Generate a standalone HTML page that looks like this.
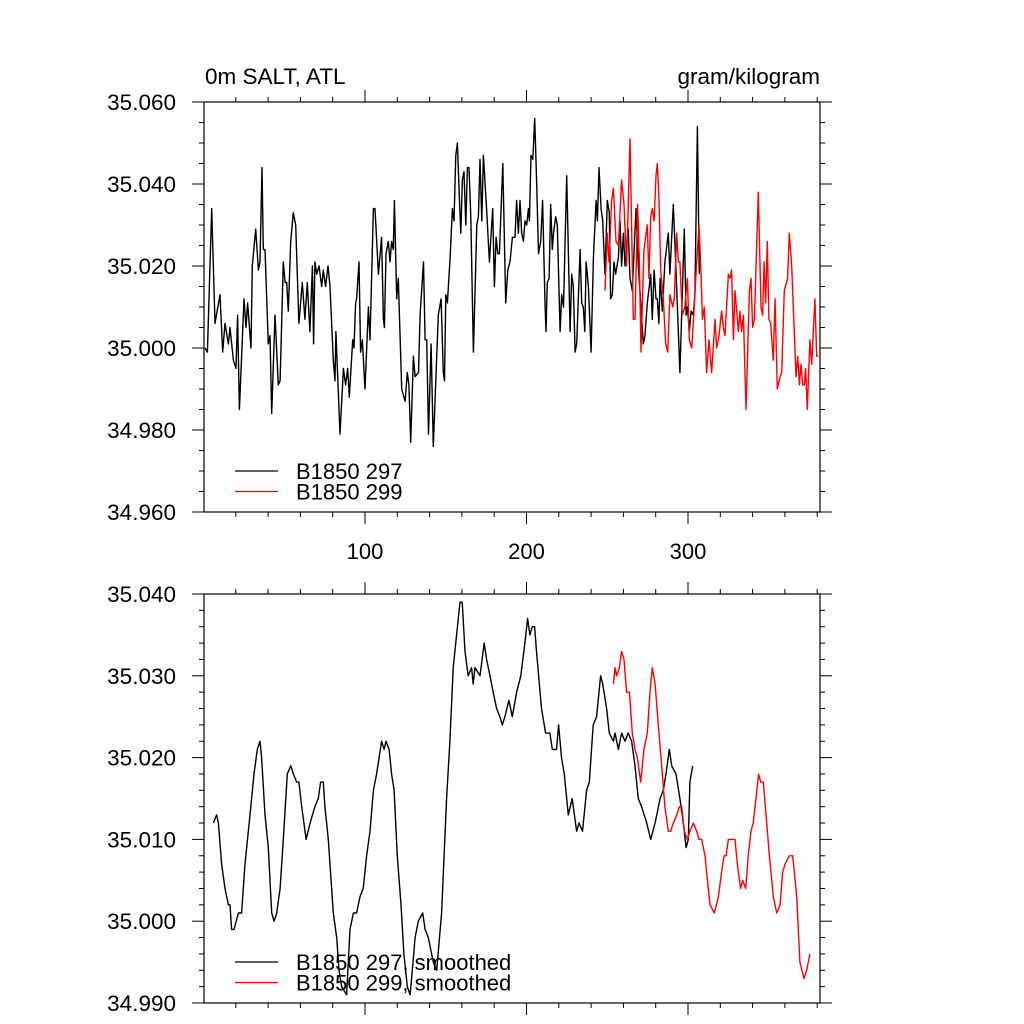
<!DOCTYPE html>
<html><head><meta charset="utf-8"><style>
html,body{margin:0;padding:0;background:#fff;}
svg{display:block;font-family:"Liberation Sans",sans-serif;}
</style></head><body>
<svg id="chart" width="1024" height="1024" viewBox="0 0 1024 1024" xmlns="http://www.w3.org/2000/svg">
<rect x="0" y="0" width="1024" height="1024" fill="#fff"/>
<text x="205" y="84" font-size="22.5">0m SALT, ATL</text>
<text x="820" y="84" font-size="22.5" text-anchor="end">gram/kilogram</text>
<g id="top"></g>
<g id="bot"></g>
</svg>
<script>
// ---- Top panel data (raw annual) ----
const b297Years=[1,2.4,5.1,7.1,10.2,11.9,13.3,15.4,16.4,18.5,20.1,21.1,22.2,25.1,26.3,27.3,29.4,30.2,32.3,34,35,36.2,37,38.1,40.1,41.2,42.2,44.3,46.3,47.4,49.4,50.5,51.5,52.5,54,55.6,57.1,59.1,61.2,62.8,64.3,65.9,67.4,68.2,69,70.1,71.5,73.2,74.2,75.6,77.1,78.3,80.4,81.4,82,84.5,86.6,88,89.3,90.3,92.4,93.2,94.2,94.8,96.3,97.3,98.3,100,102.1,103.1,105.2,106.2,108.3,110.3,111.4,112,113,114.4,115.5,116.5,117.5,118.2,119.6,120.6,122.7,124.8,126.2,127.2,128.3,130,131,133.1,134.1,136.2,137.2,138.2,139.3,140.9,142.3,145.4,147.1,148.5,149.2,150,151,152.7,154.1,155.1,156.2,157.2,158.2,159.3,160.3,161.3,162.4,163.4,164.4,165.5,167.1,169.2,170.2,171.2,172.3,173.3,175.4,177,179.1,180.1,181.2,182.2,183.2,185.3,187.1,188.4,189.8,191.3,192.9,193.9,195,196,197,198.1,199.1,200.1,201.2,201.8,202.8,203.9,205.1,206.3,207.4,208.8,210,211.5,212.1,212.9,214,215,216,216.7,218.1,219.1,220.8,221.8,222.9,224.9,227,228,229,230.1,231.1,233.2,234.2,235.2,236.1,236.9,238.3,240,241.4,243.1,243.9,244.9,246.2,247.2,248.6,250,251.3,252.1,253.1,254.2,255.2,256.9,257.9,258.9,260,261,262,263,264.1,265.5,267.8,269.2,270.9,272.3,273.4,274.8,276.9,277.9,279,280.2,281,282,282.7,284.1,285.7,287.8,288.8,290.9,292.6,295,297.7,298.8,299.6,300.8,301.9,303.3,304.3,305.8,307];
const b297Values=[35.000,34.999,35.034,35.006,35.013,34.999,35.006,35.001,35.005,34.997,34.995,35.008,34.985,35.012,35.005,35.011,35.000,35.020,35.029,35.019,35.021,35.044,35.024,35.024,35.001,35.003,34.984,35.008,34.991,34.992,35.021,35.016,35.016,35.009,35.026,35.033,35.030,35.006,35.016,35.007,35.016,35.004,35.020,35.001,35.021,35.018,35.020,35.015,35.019,35.015,35.020,35.015,34.997,34.992,35.004,34.979,34.995,34.991,34.995,34.988,35.002,35.000,35.011,35.012,35.021,34.999,35.002,34.990,35.010,35.002,35.034,35.034,35.018,35.027,35.007,35.005,35.023,35.026,35.021,35.026,35.024,35.036,35.012,35.017,34.990,34.987,34.994,34.991,34.977,34.998,34.993,34.994,35.008,35.021,35.002,35.002,34.979,35.001,34.976,35.008,35.012,34.994,34.992,35.013,35.011,35.022,35.034,35.031,35.047,35.050,35.039,35.028,35.041,35.043,35.030,35.044,35.044,35.032,34.999,35.030,35.032,35.046,35.031,35.047,35.033,35.021,35.034,35.015,35.027,35.023,35.023,35.045,35.011,35.019,35.021,35.027,35.027,35.036,35.028,35.036,35.028,35.026,35.031,35.030,35.034,35.031,35.047,35.046,35.056,35.040,35.023,35.026,35.036,35.010,35.004,35.016,35.017,35.035,35.024,35.028,35.032,35.030,35.004,35.013,35.010,35.042,35.004,35.018,35.015,34.999,35.001,35.024,35.011,35.010,35.004,35.021,35.015,34.999,35.022,35.036,35.031,35.044,35.034,35.031,35.018,35.036,35.033,35.012,35.013,35.021,35.018,35.022,35.031,35.020,35.028,35.020,35.025,35.029,35.017,35.014,35.034,35.020,35.010,35.001,35.003,35.011,35.018,35.007,35.019,35.012,35.012,35.006,35.017,35.009,35.021,35.028,35.018,35.035,35.019,34.994,35.029,35.008,35.010,35.004,35.009,35.008,35.013,35.054,35.018];
const b299Years=[248.6,250,251.1,252.7,253.8,255.4,256.9,258.9,260.4,262,264.1,266.1,267.2,268.8,269.9,270.9,272.7,274.8,275.8,276.9,277.9,279,280.2,281,282,283.1,284.7,286.2,287.4,288.8,290.5,291.5,293,294,295,296.5,298.1,299.6,300.8,302.3,303.7,305.4,306.8,308,308.9,310.1,311.5,313,314.6,316.7,317.7,319.2,320.8,321.9,322.9,325,326,327,328.1,329.1,331.2,332.2,333.2,334.3,335.9,338,339,340,341.1,343.5,345.2,346.2,347.1,348.1,349.1,350.1,351.2,352.8,353.9,355.3,357,358,359.6,361.7,362.7,364.2,366.9,367.9,369,370,371,372,372.8,373.9,375.5,376.6,378.6,379.7,380.7];
const b299Values=[35.014,35.028,35.021,35.036,35.039,35.026,35.025,35.041,35.035,35.020,35.051,35.007,35.007,35.035,35.021,34.999,35.024,35.030,35.017,35.032,35.034,35.031,35.042,35.045,35.037,35.019,35.012,35.001,34.999,35.013,35.010,35.012,35.028,35.021,35.021,35.008,35.010,35.017,35.002,35.000,35.009,35.021,35.030,35.019,35.007,35.010,34.994,35.002,34.994,35.007,35.000,35.003,35.009,35.005,35.003,35.018,35.017,35.019,35.002,35.014,35.004,35.009,35.004,35.008,34.985,35.014,35.017,35.005,35.007,35.038,35.010,35.008,35.021,35.011,35.026,35.007,35.006,34.997,35.012,34.990,34.993,34.994,35.014,35.017,35.028,35.020,34.993,34.998,34.991,34.996,34.991,34.991,34.995,34.985,35.002,34.996,35.012,34.998,34.998];
// ---- Bottom panel data (smoothed) ----
const s297Years=[6.1,8.1,9.2,11.2,13.3,15.4,16.4,17.4,18.9,21.6,23.6,25.7,28.8,31.3,33.3,35,36,38.1,40.1,42.2,43.7,45.3,47.4,49.4,51.9,54,55.6,57.7,59.1,60.8,63.5,66,69,71.1,72.5,74.2,75.2,77.3,80.4,82.5,83.9,85.6,88.6,90.7,92.8,94.8,96.9,98.9,101,103.1,105.2,107.2,108.7,110.3,111.8,113,114.9,116.5,118,120,122.3,124.1,126.2,127.9,129.3,131,133,135.7,137.2,139.2,142.3,144.4,147.4,150.5,152.6,154.6,156.7,158.8,160.2,161.9,163.9,166,167,168.1,171.2,173.8,175.3,177.4,179.4,181.5,183.5,185,186.6,189.1,191.2,193.9,196.5,199,200.7,202.1,203.6,205,206.2,209.3,211.8,213.5,214.5,216,218.6,219.9,221.7,223.4,225.9,228.3,231,232.5,234.7,237.2,238.9,241.3,243.4,245.9,247.2,249.6,251.3,253.8,254.8,256.9,258.9,261,263,265.1,267.2,269.2,271.3,274.4,276.9,279.6,282.7,284.7,286.4,288.4,289.9,292.6,295,297.1,298.8,300.2,301.2,302.9];
const s297Values=[35.012,35.013,35.012,35.007,35.004,35.002,35.002,34.999,34.999,35.001,35.001,35.007,35.013,35.018,35.021,35.022,35.020,35.013,35.009,35.001,35.000,35.001,35.004,35.010,35.018,35.019,35.018,35.017,35.017,35.014,35.010,35.012,35.014,35.015,35.017,35.017,35.014,35.010,35.001,34.998,34.994,34.992,34.991,34.999,35.001,35.001,35.003,35.004,35.008,35.011,35.016,35.018,35.020,35.022,35.021,35.022,35.021,35.018,35.016,35.008,35.002,34.996,34.992,34.991,34.994,34.998,35.000,35.001,34.999,34.998,34.995,34.994,35.001,35.015,35.022,35.031,35.035,35.039,35.039,35.033,35.030,35.031,35.029,35.031,35.030,35.034,35.032,35.030,35.028,35.026,35.025,35.024,35.025,35.027,35.025,35.028,35.030,35.034,35.037,35.035,35.036,35.036,35.033,35.026,35.023,35.023,35.023,35.021,35.021,35.024,35.020,35.018,35.013,35.015,35.011,35.012,35.011,35.016,35.017,35.024,35.025,35.030,35.029,35.026,35.023,35.022,35.023,35.021,35.023,35.022,35.023,35.022,35.019,35.015,35.014,35.012,35.010,35.012,35.015,35.016,35.018,35.021,35.019,35.018,35.015,35.012,35.009,35.010,35.017,35.019];
const s299Years=[253.8,254.8,255.8,257.5,258.9,260.4,262,263.7,265.5,267.2,268.6,270.7,272.7,274.8,276.5,277.9,279.6,281.6,283.7,285.7,287.8,289.3,290.9,293,294.6,296.1,297.7,299.6,301.2,303.3,305.4,306.8,308.5,310.5,312,313.6,316.3,318.8,320.8,322.3,323.5,325,327.7,329.1,330.5,332.6,333.8,335.7,337.3,339,340.4,342.1,343.7,345,346.6,348.7,350.4,352.8,354.9,357,358.6,360.1,362.7,364.8,367.3,369.3,371.8,373.5,375.5];
const s299Values=[35.029,35.031,35.030,35.031,35.033,35.032,35.028,35.028,35.023,35.021,35.020,35.017,35.021,35.023,35.028,35.031,35.029,35.024,35.019,35.014,35.011,35.011,35.012,35.013,35.014,35.014,35.011,35.010,35.011,35.012,35.011,35.010,35.010,35.008,35.005,35.002,35.001,35.003,35.006,35.008,35.008,35.010,35.010,35.010,35.007,35.004,35.005,35.004,35.008,35.011,35.012,35.015,35.018,35.017,35.017,35.012,35.008,35.003,35.001,35.002,35.006,35.007,35.008,35.008,35.003,34.995,34.993,34.994,34.996];
const topYTicks=["35.060","35.040","35.020","35.000","34.980","34.960"];
const botYTicks=["35.040","35.030","35.020","35.010","35.000","34.990"];
const xTickLabels=["100","200","300"];
const topLegend=["B1850 297","B1850 299"];
const botLegend=["B1850 297, smoothed","B1850 299, smoothed"];

const NS="http://www.w3.org/2000/svg";
const X0=204,X1=820,XMIN=(204-203.5)/1.615,XMAX=(820-203.5)/1.615;
function xs(v){return X0+(v-XMIN)/(XMAX-XMIN)*(X1-X0);}
function mk(tag,attrs,parent){const e=document.createElementNS(NS,tag);for(const k in attrs)e.setAttribute(k,attrs[k]);parent.appendChild(e);return e;}

function panel(g,Y0,Y1,ymin,ymax,labels,minorStep,series,legend,legY,showX){
  const ys=v=>Y1-(v-ymin)/(ymax-ymin)*(Y1-Y0);
  for(let t=20;t<=380;t+=20){
    const major=t%100===0, L=major?12:5;
    const a=mk('line',{x1:xs(t),x2:xs(t),y1:Y0,y2:Y0-L,stroke:'#000','stroke-width':1},g);
    
    
    const b=mk('line',{x1:xs(t),x2:xs(t),y1:Y1,y2:Y1+L,stroke:'#000','stroke-width':1},g);
    
    
  }
  if(showX){xTickLabels.forEach(s=>{
    const t=mk('text',{x:xs(+s),y:Y1+47,'font-size':22,'text-anchor':'middle'},g);t.textContent=s;
    
    
  });}
  const n=Math.round((ymax-ymin)/minorStep);
  const majStep=(ymax-ymin)/(labels.length-1);
  for(let i=0;i<=n;i++){
    const v=ymin+i*minorStep;
    const major=Math.abs(((v-ymin)/majStep)-Math.round((v-ymin)/majStep))<1e-6;
    const L=major?12:5;
    const a=mk('line',{x1:X0,x2:X0-L,y1:ys(v),y2:ys(v),stroke:'#000','stroke-width':1},g);
    
    
    const b=mk('line',{x1:X1,x2:X1+L,y1:ys(v),y2:ys(v),stroke:'#000','stroke-width':1},g);
    
    
  }
  labels.forEach(s=>{
    const t=mk('text',{x:176,y:ys(+s)+8,'font-size':22.5,'text-anchor':'end'},g);t.textContent=s;
    
    
  });
  series.forEach(([xa,va,col,name])=>{
    const d=xa.map((x,i)=>(i?'L':'M')+xs(x).toFixed(1)+','+ys(va[i]).toFixed(1)).join('');
    const p=mk('path',{d:d,fill:'none',stroke:col,'stroke-width':1.4,'stroke-linejoin':'round'},g);
    
    
  });
  const f=mk('rect',{x:X0,y:Y0,width:X1-X0,height:Y1-Y0,fill:'none',stroke:'#000','stroke-width':1.2},g);
  
  
  legend.forEach((s,i)=>{
    const y=legY+i*20.5;
    const l=mk('line',{x1:235,x2:278,y1:y,y2:y,stroke:i?'#f00':'#000','stroke-width':1.3},g);
    
    
    const t=mk('text',{x:296,y:y+8,'font-size':22},g);t.textContent=s;
    
    
  });
}
panel(document.getElementById('top'),102,512,34.960,35.060,topYTicks,0.005,
  [[b297Years,b297Values,'#000','series-b1850-297'],[b299Years,b299Values,'#f00','series-b1850-299']],topLegend,471,true);
panel(document.getElementById('bot'),594,1003,34.990,35.040,botYTicks,0.002,
  [[s297Years,s297Values,'#000','series-b1850-297-smoothed'],[s299Years,s299Values,'#f00','series-b1850-299-smoothed']],botLegend,962,false);
</script>
</body></html>
